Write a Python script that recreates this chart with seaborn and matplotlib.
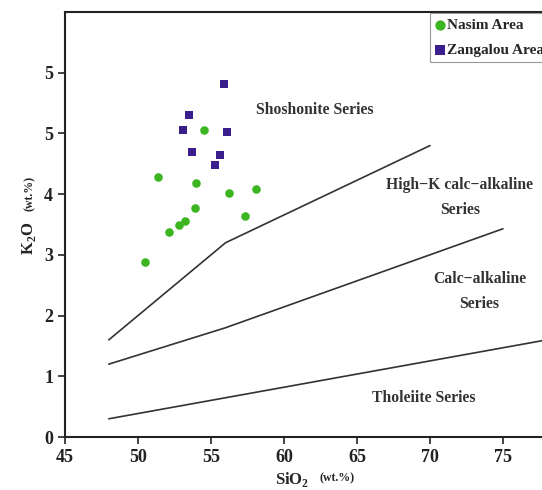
"""K2O vs SiO2 classification diagram (Nasim and Zangalou areas)."""

import matplotlib

matplotlib.use("Agg")
import matplotlib.pyplot as plt
import pandas as pd
import seaborn as sns

# sample compositions
nasim_sio2 = [54.5, 51.4, 54.0, 56.2, 58.1, 53.9, 57.3, 53.2, 52.8, 52.1, 50.5]
nasim_k2o = [5.05, 4.28, 4.19, 4.02, 4.09, 3.77, 3.64, 3.56, 3.49, 3.38, 2.89]
zangalou_sio2 = [55.9, 53.5, 53.1, 56.1, 53.7, 55.6, 55.3]
zangalou_k2o = [5.81, 5.30, 5.05, 5.03, 4.69, 4.65, 4.48]

# series boundaries
shoshonite_x = [48, 56, 70]
shoshonite_y = [1.6, 3.2, 4.8]
highk_x = [48, 56, 75]
highk_y = [1.2, 1.8, 3.43]
tholeiite_x = [48, 78]
tholeiite_y = [0.3, 1.6]

x_ticks = [45, 50, 55, 60, 65, 70, 75]
y_ticks = [0, 1, 2, 3, 4, 5, 6]
y_tick_labels = ["0", "1", "2", "3", "4", "5", "5"]

sns.set_theme(style="ticks")
plt.rcParams["font.family"] = ["Liberation Serif", "DejaVu Serif"]
plt.rcParams["font.weight"] = "bold"
plt.rcParams["mathtext.fontset"] = "custom"
plt.rcParams["mathtext.rm"] = "Liberation Serif:bold"
plt.rcParams["mathtext.bf"] = "Liberation Serif:bold"

frame = pd.concat(
    [
        pd.DataFrame({"SiO2": nasim_sio2, "K2O": nasim_k2o, "Area": "Nasim Area"}),
        pd.DataFrame({"SiO2": zangalou_sio2, "K2O": zangalou_k2o, "Area": "Zangalou Area"}),
    ],
    ignore_index=True,
)

fig = plt.figure(figsize=(5.42, 4.9), dpi=100)
ax = fig.add_axes([65 / 542, 53 / 490, 511 / 542, 425 / 490])

line_color = "#333333"
for xs, ys in [(shoshonite_x, shoshonite_y), (highk_x, highk_y), (tholeiite_x, tholeiite_y)]:
    sns.lineplot(x=xs, y=ys, ax=ax, color=line_color, linewidth=1.2, sort=False, estimator=None)

styles = {
    "Nasim Area": dict(marker="o", color="#3cb521", s=38),
    "Zangalou Area": dict(marker="s", color="#3a1f8c", s=30),
}
for area, group in frame.groupby("Area"):
    sns.scatterplot(data=group, x="SiO2", y="K2O", ax=ax, linewidth=0, label=area, **styles[area])

text_kw = dict(ha="center", va="center", fontsize=11.3, color="#333333")
ax.text(62.1, 5.39, "Shoshonite Series", **text_kw)
ax.text(72.05, 3.95, "High\u2212K calc\u2212alkaline\nSeries", linespacing=1.75, **text_kw)
ax.text(73.4, 2.40, "Calc\u2212alkaline\nSeries", linespacing=1.75, **text_kw)
ax.text(69.6, 0.64, "Tholeiite Series", **text_kw)

ax.set_xlim(45, 80)
ax.set_ylim(0, 7)
ax.set_xticks(x_ticks)
ax.set_yticks(y_ticks)
ax.set_yticklabels(y_tick_labels)
ax.tick_params(axis="both", labelsize=13, length=5, width=1.2, direction="out", colors="#222222")
for label in ax.get_xticklabels() + ax.get_yticklabels():
    label.set_fontweight("bold")
ax.set_xlabel("")
ax.set_ylabel("")
ax.spines["right"].set_visible(False)
for side in ["left", "bottom", "top"]:
    ax.spines[side].set_linewidth(1.5)
    ax.spines[side].set_color("#222222")

# axis titles with the smaller unit part
fig.text(292 / 542, 1 - 479 / 490, "SiO$_2$", ha="center", va="center", fontsize=12)
fig.text(337 / 542, 1 - 478 / 490, "(wt.%)", ha="center", va="center", fontsize=8.5)
fig.text(29 / 542, 1 - 238 / 490, "K$_2$O", ha="center", va="center", fontsize=12, rotation=90)
fig.text(30 / 542, 1 - 193 / 490, "(wt.%)", ha="center", va="center", fontsize=8.5, rotation=90)

legend = ax.legend(
    loc="upper left",
    bbox_to_anchor=((430 - 65) / 511, 0.998),
    borderaxespad=0,
    fontsize=11,
    handlelength=0.6,
    handletextpad=0.15,
    labelspacing=0.75,
    borderpad=0.35,
    fancybox=False,
    framealpha=1,
    markerscale=1.2,
)
legend.get_frame().set_edgecolor("#999999")
legend.get_frame().set_linewidth(0.8)

fig.savefig("out.png", dpi=100)
